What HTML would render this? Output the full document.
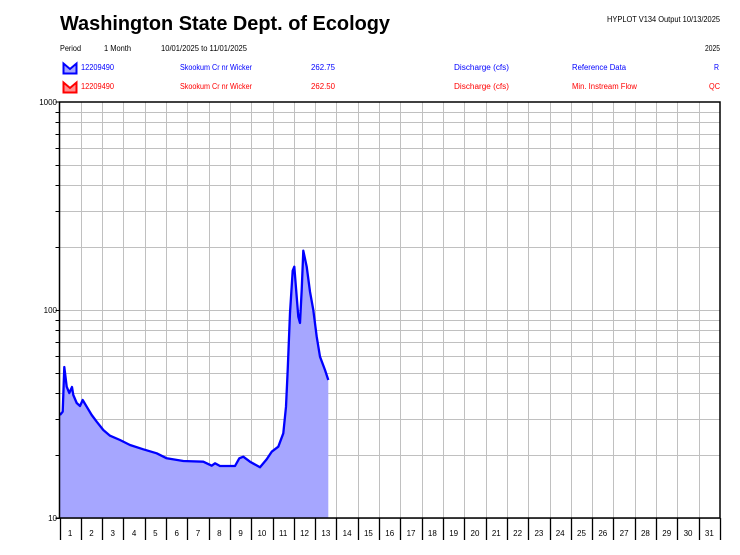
<!DOCTYPE html>
<html><head><meta charset="utf-8"><style>
html,body{margin:0;padding:0;background:#fff;}
svg{display:block;font-family:"Liberation Sans",Arial,sans-serif;}
</style></head><body>
<svg width="740" height="555" viewBox="0 0 740 555" xmlns="http://www.w3.org/2000/svg">
<rect width="740" height="555" fill="#fff"/>
<text x="60" y="30" font-size="20" font-weight="bold" textLength="330" lengthAdjust="spacingAndGlyphs">Washington State Dept. of Ecology</text>
<text x="607" y="22" font-size="8" textLength="113" lengthAdjust="spacingAndGlyphs">HYPLOT V134  Output 10/13/2025</text>
<g font-size="8">
<text x="60" y="51" textLength="21" lengthAdjust="spacingAndGlyphs">Period</text>
<text x="104" y="51" textLength="27" lengthAdjust="spacingAndGlyphs">1 Month</text>
<text x="161" y="51" textLength="86" lengthAdjust="spacingAndGlyphs">10/01/2025  to  11/01/2025</text>
<text x="705" y="51" textLength="15" lengthAdjust="spacingAndGlyphs">2025</text>
<g fill="#0000ff">
<text x="81" y="70" textLength="33" lengthAdjust="spacingAndGlyphs">12209490</text>
<text x="180" y="70" textLength="72" lengthAdjust="spacingAndGlyphs">Skookum Cr nr Wicker</text>
<text x="311" y="70" textLength="24" lengthAdjust="spacingAndGlyphs">262.75</text>
<text x="454" y="70" textLength="55" lengthAdjust="spacingAndGlyphs">Discharge (cfs)</text>
<text x="572" y="70" textLength="54" lengthAdjust="spacingAndGlyphs">Reference Data</text>
<text x="714" y="70" textLength="5" lengthAdjust="spacingAndGlyphs">R</text>
</g>
<g fill="#ff0000">
<text x="81" y="89" textLength="33" lengthAdjust="spacingAndGlyphs">12209490</text>
<text x="180" y="89" textLength="72" lengthAdjust="spacingAndGlyphs">Skookum Cr nr Wicker</text>
<text x="311" y="89" textLength="24" lengthAdjust="spacingAndGlyphs">262.50</text>
<text x="454" y="89" textLength="55" lengthAdjust="spacingAndGlyphs">Discharge (cfs)</text>
<text x="572" y="89" textLength="65" lengthAdjust="spacingAndGlyphs">Min. Instream Flow</text>
<text x="709" y="89" textLength="11" lengthAdjust="spacingAndGlyphs">QC</text>
</g>
</g>
<path d="M63.5,63.5 V73.5 H76.5 V63.5 L70,69 Z" fill="#a6a6ff" stroke="#0000ff" stroke-width="2"/>
<path d="M63.5,82.5 V92.5 H76.5 V82.5 L70,88 Z" fill="#ff9090" stroke="#ff0000" stroke-width="2"/>
<g id="grid" stroke="#c0c0c0" stroke-width="1"></g>
<path id="fill" fill="#a6a6ff" stroke="none" d=""/>
<path id="line" fill="none" stroke="#0000ff" stroke-width="2.3" stroke-linejoin="round" d=""/>
<g id="axes"></g>
<text x="57" y="105" font-size="8" text-anchor="end">1000</text>
<text x="57" y="313" font-size="8" text-anchor="end">100</text>
<text x="57" y="521" font-size="8" text-anchor="end">10</text>
<g id="xlab" font-size="8" text-anchor="middle"></g>
</svg>
<script>
(function(){
var NS="http://www.w3.org/2000/svg";
var L=59.5,R=720,T=102,B=518,W=(R-L)/31;
function el(tag,attrs,parent){var e=document.createElementNS(NS,tag);for(var k in attrs)e.setAttribute(k,attrs[k]);parent.appendChild(e);return e;}
var g=document.getElementById('grid');
var ax=document.getElementById('axes');
var xl=document.getElementById('xlab');
for(var d=0;d<2;d++){for(var m=1;m<=9;m++){var v=Math.pow(10,d+1)*m;var y=B-208*Math.log10(v/10);y=Math.round(y)+0.5;
 el('line',{x1:L,x2:R,y1:y,y2:y},g);
 el('line',{x1:L-4,x2:L,y1:y,y2:y,stroke:'#000','stroke-width':1},ax);}}
for(var k=1;k<31;k++){var x=Math.round(L+k*W)+0.5;el('line',{x1:x,x2:x,y1:T,y2:B},g);}
el('rect',{x:L,y:T,width:R-L,height:B-T,fill:'none',stroke:'#000','stroke-width':1.5},ax);
for(var k=0;k<=31;k++){var x=Math.round(L+k*W)+0.5;el('line',{x1:x,x2:x,y1:B,y2:540,stroke:'#000','stroke-width':1.3},ax);}
el('line',{x1:L-4,x2:L,y1:T,y2:T,stroke:'#000'},ax);
el('line',{x1:L-4,x2:L,y1:B,y2:B,stroke:'#000'},ax);
for(var k=0;k<31;k++){var t=el('text',{x:L+k*W+W/2,y:536},xl);t.textContent=(k+1);}
var pts=[[60,415],[62.7,411.7],[64.3,367],[66.7,386.7],[69.3,393],[72,387],[73.3,395],[76.7,403],[80,406],[82.7,400],[86.7,406.7],[91.7,415],[96.7,421.7],[103.3,430],[110,435.7],[120,440],[130,445],[143.3,449.3],[156.7,453.3],[166.7,458.3],[183.3,461],[203.3,461.7],[211.7,465.7],[215,463.3],[220,466],[235,466],[239.3,458.3],[243.3,456.7],[250,461.7],[260,467.3],[266.7,459.3],[271.7,451.7],[278.3,446.7],[283.3,433.3],[286,406.7],[287.7,370],[290,313],[292.7,270.7],[294.3,266.7],[296,288],[298.3,316.7],[300,323],[301.7,290],[303.3,250.7],[306.7,266.7],[310,291.7],[313.3,310],[316.7,336.7],[320,356.7],[325,370],[328.3,380]];
var d='M'+pts.map(function(p){return p[0]+','+p[1];}).join(' L');
document.getElementById('line').setAttribute('d',d);
document.getElementById('fill').setAttribute('d','M60,518 L'+pts.map(function(p){return p[0]+','+p[1];}).join(' L')+' L328.3,518 Z');
})();
</script>
</body></html>
